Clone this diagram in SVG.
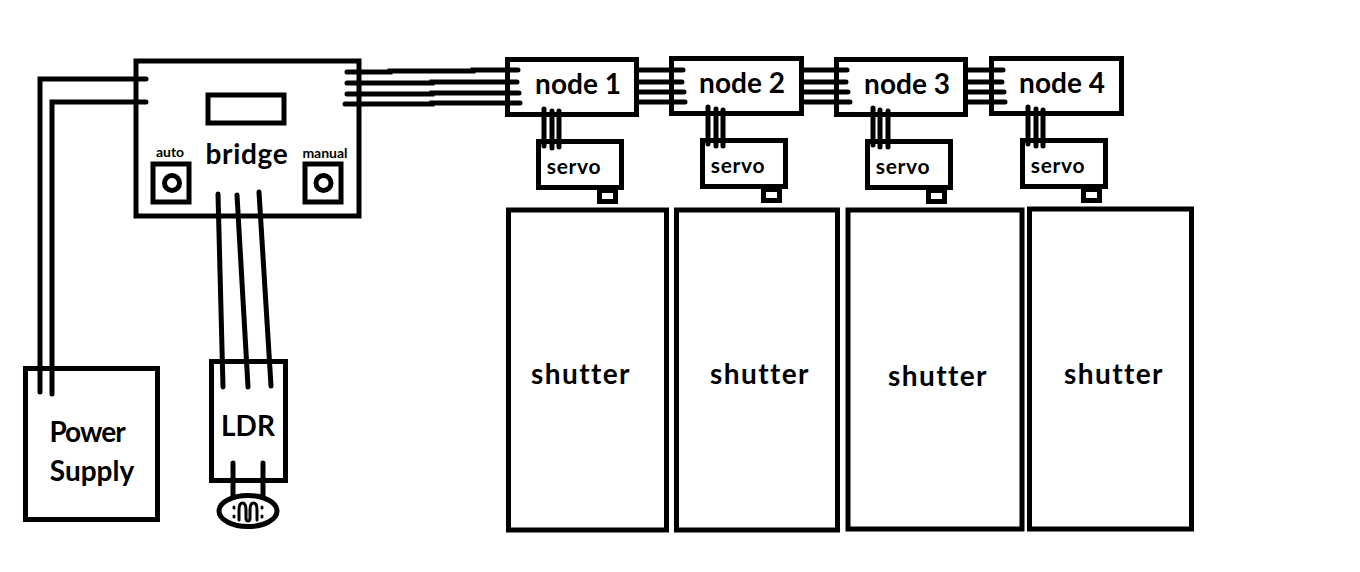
<svg xmlns="http://www.w3.org/2000/svg" width="1360" height="572" viewBox="0 0 1360 572">
<style>
.b{fill:none;stroke:#000;stroke-width:5}
.w{fill:none;stroke:#000;stroke-width:5;stroke-linecap:round;stroke-linejoin:miter}
.t{font-family:"Lato","Open Sans",sans-serif;font-weight:700;fill:#000}
.l{font-size:28px}.m{font-size:21px;letter-spacing:.7px}.s{font-size:14px}.h{letter-spacing:1.4px}
</style>
<rect width="1360" height="572" fill="#fff"/>
<g id="bridge"><rect class="b" x="136" y="61" width="223" height="155"/><rect class="b" x="208" y="95" width="76" height="28"/>
<text class="t l" x="247" y="164" text-anchor="middle" style="letter-spacing:.7px">bridge</text></g>
<g id="auto"><rect class="b" x="153" y="164" width="36" height="38"/><circle class="b" cx="172" cy="183" r="7.500"/><text class="t s" x="170" y="157" text-anchor="middle">auto</text></g>
<g id="manual"><rect class="b" x="305" y="164" width="36" height="38"/><circle class="b" cx="323.500" cy="183" r="7.500"/><text class="t s" x="325" y="158" text-anchor="middle">manual</text></g>
<g id="node1"><rect class="b" x="507.500" y="59.500" width="129" height="55"/><text class="t l" x="578" y="94" text-anchor="middle">node 1</text></g>
<g id="node2"><rect class="b" x="671.500" y="58.500" width="130" height="55"/><text class="t l" x="742" y="93" text-anchor="middle">node 2</text></g>
<g id="node3"><rect class="b" x="836.500" y="59.500" width="129" height="55"/><text class="t l" x="907" y="94" text-anchor="middle">node 3</text></g>
<g id="node4"><rect class="b" x="991.500" y="58.500" width="130" height="55"/><text class="t l" x="1062" y="93" text-anchor="middle">node 4</text></g>
<g id="servo1"><rect class="b" x="538.500" y="141.500" width="83" height="46"/><rect class="b" x="599.500" y="190.500" width="16" height="11"/><text class="t m" x="574" y="174" text-anchor="middle">servo</text></g>
<g id="servo2"><rect class="b" x="702.500" y="140.500" width="83" height="46"/><rect class="b" x="763.500" y="189.500" width="16" height="11"/><text class="t m" x="738" y="173" text-anchor="middle">servo</text></g>
<g id="servo3"><rect class="b" x="867.500" y="141.500" width="83" height="46"/><rect class="b" x="928.500" y="190.500" width="16" height="11"/><text class="t m" x="903" y="174" text-anchor="middle">servo</text></g>
<g id="servo4"><rect class="b" x="1022.500" y="140.500" width="83" height="46"/><rect class="b" x="1083.500" y="189.500" width="16" height="11"/><text class="t m" x="1058" y="173" text-anchor="middle">servo</text></g>
<g id="shutter1"><rect class="b" x="508.500" y="210" width="158" height="320"/><text class="t l h" x="581" y="384" text-anchor="middle">shutter</text></g>
<g id="shutter2"><rect class="b" x="676.500" y="210" width="161" height="320"/><text class="t l h" x="760" y="384" text-anchor="middle">shutter</text></g>
<g id="shutter3"><rect class="b" x="848" y="210" width="174" height="319"/><text class="t l h" x="938" y="386" text-anchor="middle">shutter</text></g>
<g id="shutter4"><rect class="b" x="1029.500" y="209" width="162" height="320"/><text class="t l h" x="1114" y="384" text-anchor="middle">shutter</text></g>
<g id="power"><rect class="b" x="25.500" y="368.500" width="132" height="151"/><text class="t l" x="87" y="442" text-anchor="middle" style="letter-spacing:-1px">Power</text><text class="t l" x="92" y="481" text-anchor="middle">Supply</text></g>
<g id="ldr"><rect class="b" x="211.500" y="361.500" width="74" height="119"/><text class="t l" x="248" y="436" text-anchor="middle">LDR</text>
<ellipse class="b" cx="248" cy="511" rx="29" ry="15.500"/>
<path class="w" style="stroke-width:3;stroke-linejoin:round" d="M234 507v1M234 516v1M262 507v1M262 516v1M239 520V510q0-7 3.500-7t3.500 7v8q0 3 2 3t2-3v-8q0-7 3.500-7t3.500 7v10"/></g>
<g id="connectors">
<path class="w" d="M146 79H40V392M146 102H52V394"/>
<path class="w" d="M218 194L223 387M237 195L248 387M259 192L271 386"/>
<path class="w" d="M233 463V495M263 463V495"/>
<path class="w" d="M347 72H390V71H473V70H518M347 83H432V82H517M347 94H432V93H519M345 104H432V103H520"/>
<path class="w" d="M638 70H683M638 82H682M638 92H684M638 102H685"/>
<path class="w" d="M802 70H847M802 82H846M802 92H848M802 102H850"/>
<path class="w" d="M966 70H1003M966 82H1002M966 92H1004M966 102H1005"/>
<path class="w" d="M544 109V146M552 111V148M559 111V147"/>
<path class="w" d="M708 107V144M716 109V146M723 110V146"/>
<path class="w" d="M873 108V145M880 110V147M888 111V147"/>
<path class="w" d="M1028 107V144M1036 109V146M1043 110V146"/>
</g>
</svg>
